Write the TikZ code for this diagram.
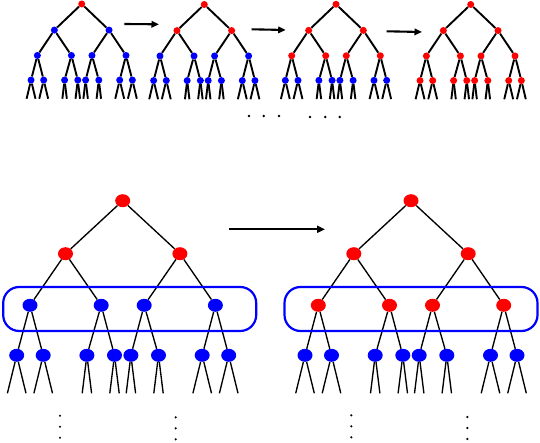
\documentclass[tikz,border=0pt]{standalone}
\usetikzlibrary{shapes.geometric,arrows.meta}
\tikzset{
  bigdot/.style={ellipse,inner sep=0pt,minimum width=15pt,minimum height=13pt},
  smalldot/.style={circle,inner sep=0pt,minimum size=7pt},
  bigedge/.style={line width=1.35pt,black},
  smalledge/.style={line width=1.9pt,black},
  ringbox/.style={draw=blue,line width=2.2pt,rounded corners=16pt,minimum width=253pt,minimum height=44pt,inner sep=0pt},
  dotmark/.style={circle,fill=black,inner sep=0pt,minimum size=2.4pt},
  bigarrow/.style={line width=1.9pt,-{Triangle[length=8pt,width=7pt]}},
  smallarrow/.style={line width=2.1pt,-{Triangle[length=7.5pt,width=6.5pt]}}
}
% #1 name, #2 x, #3 y, #4 xscale, #5 yscale, #6 number of red levels, #7 dot style, #8 edge style
\newcommand\mytree[8]{%
\begin{scope}[shift={(#2,#3)},xscale=#4,yscale=#5]
  \foreach \lv/\yy/\xs in {0/0/{0},1/53/{-57.2,57.2},2/104.6/{-92.7,-21.5,21.5,92.7},3/154.6/{-106,-79.5,-35.8,-8.2,8.2,35.8,79.5,106}}{%
    \ifnum\lv<#6\relax\def\col{red}\else\def\col{blue}\fi
    \foreach \x [count=\i from 0] in \xs {%
      \node[#7,fill=\col] (#1-\lv-\i) at (\x,\yy) {};
    }
  }
  \foreach \p/\c in {0-0/1-0,0-0/1-1,1-0/2-0,1-0/2-1,1-1/2-2,1-1/2-3,2-0/3-0,2-0/3-1,2-1/3-2,2-1/3-3,2-2/3-4,2-2/3-5,2-3/3-6,2-3/3-7}{%
    \draw[#8] (#1-\p) -- (#1-\c);
  }
  \foreach \x/\d [count=\i from 0] in {-106/9.3,-79.5/9.3,-35.8/4.7,-8.2/4.7,8.2/4.7,35.8/4.7,79.5/9.3,106/9.3}{%
    \coordinate (#1-L-\i-a) at (\x-\d,192.6);
    \coordinate (#1-L-\i-b) at (\x+\d,192.6);
    \draw[#8] (#1-3-\i) -- (#1-L-\i-a);
    \draw[#8] (#1-3-\i) -- (#1-L-\i-b);
  }
\end{scope}}
\begin{document}
\begin{tikzpicture}[x=1pt,y=-1pt]
\useasboundingbox (0,0) rectangle (540,443);
% small trees
\mytree{s1}{81.7}{4}{0.478}{0.492}{1}{smalldot}{smalledge}
\mytree{s2}{204.3}{4.5}{0.478}{0.492}{2}{smalldot}{smalledge}
\mytree{s3}{336}{4.3}{0.478}{0.492}{3}{smalldot}{smalledge}
\mytree{s4}{470.7}{4.5}{0.478}{0.492}{4}{smalldot}{smalledge}
% small arrows
\coordinate (a1s) at (124.3,24);   \coordinate (a1e) at (159,24.3);
\coordinate (a2s) at (251.7,29.3); \coordinate (a2e) at (285.7,30);
\coordinate (a3s) at (386.7,31.3); \coordinate (a3e) at (422,32);
\draw[smallarrow] (a1s) -- (a1e);
\draw[smallarrow] (a2s) -- (a2e);
\draw[smallarrow] (a3s) -- (a3e);
% top dots
\foreach \x [count=\i] in {249,263.7,279}{\node[dotmark,minimum size=2.8pt] (td1-\i) at (\x,116) {};}
\foreach \x [count=\i] in {310,325.3,339.7}{\node[dotmark,minimum size=2.8pt] (td2-\i) at (\x,117) {};}
% big trees
\mytree{b1}{122.7}{200.7}{1}{1}{2}{bigdot}{bigedge}
\mytree{b2}{411}{200.7}{1}{1}{3}{bigdot}{bigedge}
% rings
\node[ringbox] (ring1) at (129.7,309) {};
\node[ringbox] (ring2) at (411,309) {};
% big arrow
\coordinate (bas) at (229.3,229.3); \coordinate (bae) at (325,229.3);
\draw[bigarrow] (bas) -- (bae);
% vertical dots
\foreach \x/\y [count=\i] in {60/415.7,175.7/417.3,351.3/415.3,467.3/417}{%
  \node[dotmark] (vd\i-1) at (\x,\y) {};
  \node[dotmark] (vd\i-2) at (\x,\y+11) {};
  \node[dotmark] (vd\i-3) at (\x,\y+22) {};
}
\end{tikzpicture}
\end{document}
